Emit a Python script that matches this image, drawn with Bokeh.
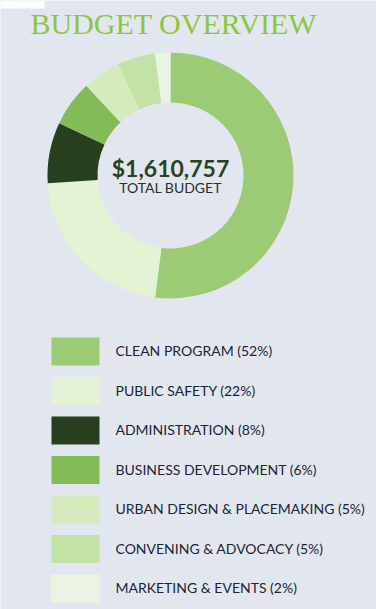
from bokeh.plotting import figure
from bokeh.models import Range1d, ColumnDataSource
from bokeh.embed import file_html
from bokeh.resources import INLINE
from bokeh.core.properties import value
import math

# ---- data ----
categories = ["CLEAN PROGRAM", "PUBLIC SAFETY", "ADMINISTRATION", "BUSINESS DEVELOPMENT",
              "URBAN DESIGN & PLACEMAKING", "CONVENING & ADVOCACY", "MARKETING & EVENTS"]
percents = [52, 22, 8, 6, 5, 5, 2]
colors = ["#9bcb74", "#e4f3d3", "#273e1f", "#84bb59", "#d5ebbe", "#c2e3a5", "#ebf3e2"]
total_label = "$1,610,757"
total_caption = "TOTAL BUDGET"
title_text = "BUDGET OVERVIEW"

W, H = 376, 609
BG = "#e2e7ef"

p = figure(width=W, height=H, output_backend="svg", toolbar_location=None,
           x_range=Range1d(0, W), y_range=Range1d(0, H), min_border=0,
           x_axis_location=None, y_axis_location=None)
p.grid.visible = False
p.outline_line_color = None
p.background_fill_color = BG
p.border_fill_color = BG

def py(v):
    return H - v

# white notch top-left
p.quad(left=[0], right=[44], top=[py(0)], bottom=[py(8)], fill_color="white", line_color=None)

# title
p.text(x=[30], y=[py(23)], text=[title_text], text_font=value("Liberation Serif"),
       text_font_size="30px", text_color="#8dc63f", text_baseline="alphabetic", text_align="left")

# donut
cx, cy = 170, py(175)
tot = sum(percents)
starts, ends = [], []
c = 0.0
for v in percents:
    starts.append(math.pi / 2 - 2 * math.pi * c / tot)
    c += v
    ends.append(math.pi / 2 - 2 * math.pi * c / tot)
src = ColumnDataSource(dict(start=starts, end=ends, color=colors))
p.annular_wedge(x=cx, y=cy, inner_radius=73, outer_radius=123, inner_radius_units="screen",
                outer_radius_units="screen", start_angle="start", end_angle="end",
                direction="clock", fill_color="color", line_color=None, source=src)

p.text(x=[cx], y=[py(167)], text=[total_label], text_font=value("Lato"), text_font_style="bold",
       text_font_size="23px", text_color="#2b4222", text_align="center", text_baseline="alphabetic")
p.text(x=[cx], y=[py(187)], text=[total_caption], text_font=value("Lato"),
       text_font_size="14px", text_color="#2a2f28", text_align="center", text_baseline="alphabetic")

# legend
row0, step = 351, 39.5
ys = [py(row0 + i * step) for i in range(len(categories))]
labels = [f"{n} ({v}%)" for n, v in zip(categories, percents)]
lsrc = ColumnDataSource(dict(y=ys, ty=[y + 1 for y in ys], color=colors, label=labels))
p.rect(x=75, y="y", width=48, height=28, fill_color="color", line_color=None, source=lsrc)
p.text(x=115, y="ty", text="label", text_font=value("Lato"), text_font_size="14px",
       text_color="#1c2434", text_baseline="alphabetic", text_align="left", source=lsrc)

open("out.html", "w").write(file_html(p, INLINE))
